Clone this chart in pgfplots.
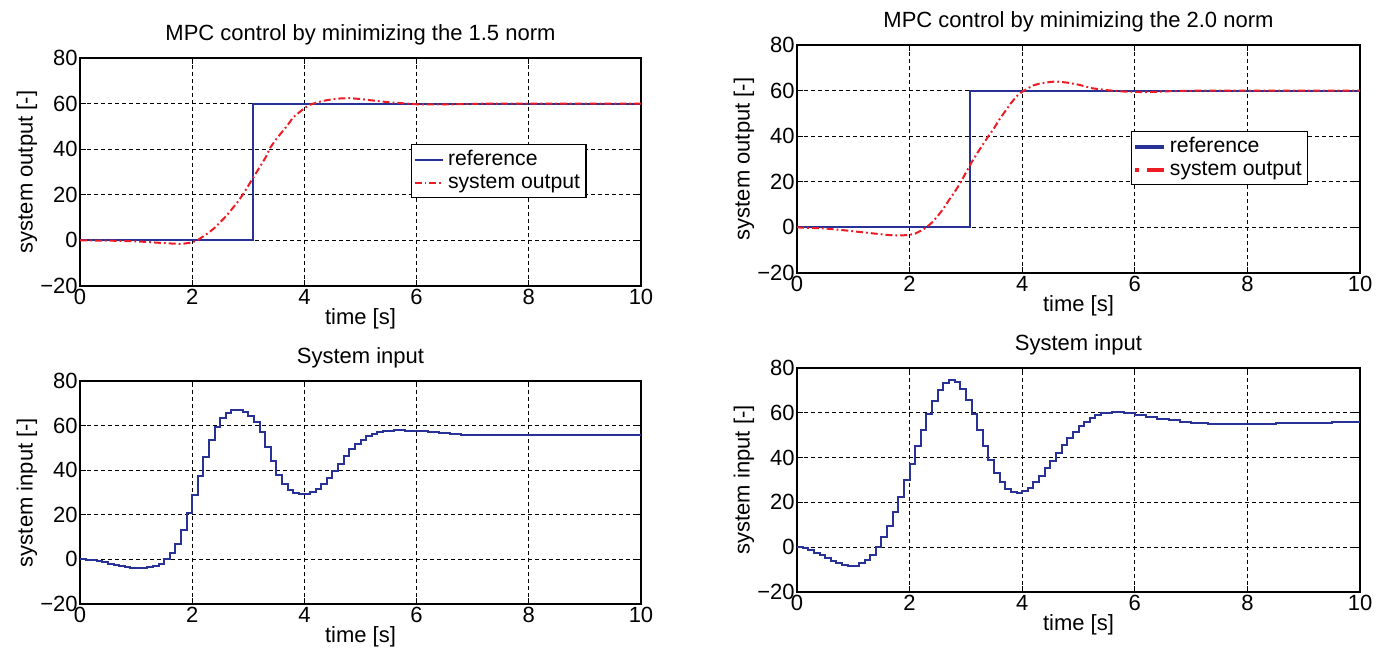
\documentclass[border=0pt]{standalone}
\usepackage{fontspec}
\setmainfont{Liberation Sans}
\usepackage{pgfplots}
\pgfplotsset{compat=1.18}
\definecolor{mblue}{RGB}{40,50,150}
\definecolor{mred}{RGB}{237,28,36}
\pgfplotsset{
  base/.style={
    scale only axis,
    xmin=0, xmax=10, ymin=-20, ymax=80,
    xtick={0,2,4,6,8,10}, ytick={-20,0,20,40,60,80},
    xticklabels={0,2,4,6,8,10},
    yticklabels={−20,0,20,40,60,80},
    grid=major,
    major grid style={black, line width=0.4pt, dash pattern=on 2pt off 1.5pt},
    tick align=inside,
    major tick length=3pt,
    tick style={black, line width=0.5pt},
    axis line style={black, line width=0.7pt},
    xlabel={time [s]},
    yticklabel style={inner xsep=1pt},
    xticklabel style={inner ysep=1.5pt},
    xlabel style={yshift=3pt},
    ylabel style={yshift=-3pt},
    title style={yshift=-3pt},
    legend cell align=left,
    legend style={draw=black, line width=0.6pt, inner xsep=1pt, inner ysep=1pt, row sep=-1pt,
      font=\fontsize{10.6}{12.5}\selectfont},
    legend image code/.code={\draw[#1] (0cm,0cm) -- (0.5cm,0cm);},
  },
  outstyle/.style={mred, line width=1pt, dash pattern=on 3.5pt off 1.5pt on 0.9pt off 1.5pt},
  refstyle/.style={mblue, line width=1pt},
}
\begin{document}
\begin{tikzpicture}[font=\fontsize{11}{13}\selectfont]
\path[use as bounding box] (0,0) rectangle (694.5pt,326pt);
% top-left
\begin{axis}[base, at={(40pt,183pt)}, anchor=south west, width=280.5pt, height=114pt,
  title={MPC control by minimizing the 1.5 norm}, ylabel={system output [-]},
  legend style={at={(0.59,0.623)}, anchor=north west}]
\addplot[refstyle] coordinates {(0,0)(3.08,0)(3.08,60)(10,60)};
\addlegendentry{reference}
\addplot[outstyle] coordinates {
(0,0)(0.5,-0.1)(1.0,-0.4)(1.5,-1.2)(1.8,-1.6)(2.0,-0.9)(2.1,0.2)(2.2,1.8)(2.3,3.5)(2.4,5.5)(2.5,8.0)(2.6,10.5)(2.7,13.5)(2.8,16.5)(2.9,20)(3.0,24)(3.1,28)(3.2,32)(3.3,36)(3.4,41)(3.5,44.5)(3.6,47.5)(3.7,50.5)(3.8,54)(3.9,56)(4.0,58)(4.1,59.5)(4.2,60.3)(4.3,61)(4.4,61.5)(4.6,62.2)(4.8,62.4)(5.0,62)(5.2,61.4)(5.5,60.6)(6.0,59.7)(6.5,59.6)(7.0,59.9)(7.5,60)(10,60)};
\addlegendentry{system output}
\end{axis}
% top-right
\begin{axis}[base, at={(398.5pt,189.5pt)}, anchor=south west, width=281.5pt, height=114pt,
  title={MPC control by minimizing the 2.0 norm}, ylabel={system output [-]},
  legend style={at={(0.593,0.623)}, anchor=north west}]
\addlegendimage{mblue, line width=2pt}
\addlegendentry{reference}
\addlegendimage{mred, line width=2pt, dash pattern=on 2pt off 4pt on 9pt off 0pt}
\addlegendentry{system output}
\addplot[refstyle, forget plot] coordinates {(0,0)(3.08,0)(3.08,60)(10,60)};
\addplot[outstyle, forget plot] coordinates {
(0,0)(0.5,-0.5)(0.85,-1.3)(1.3,-2.5)(1.6,-3.3)(1.8,-3.6)(2.0,-3.3)(2.1,-2.7)(2.2,-1.5)(2.3,0.0)(2.4,2.2)(2.5,5)(2.6,8.2)(2.7,12)(2.8,15.5)(2.9,19.5)(3.0,24)(3.1,28.5)(3.2,32.5)(3.3,36.3)(3.4,40)(3.5,43.5)(3.6,47.5)(3.7,51)(3.8,54.5)(3.9,57.5)(4.0,59.5)(4.1,61)(4.2,62.3)(4.3,63)(4.5,63.8)(4.6,64)(4.8,63.5)(5.0,62.6)(5.25,61)(5.5,60.2)(5.8,59.6)(6.2,59.3)(6.7,59.8)(7.2,60)(10,60)};
\end{axis}
% bottom-left
\begin{axis}[base, at={(40pt,24pt)}, anchor=south west, width=280.5pt, height=111.5pt,
  title={System input}, ylabel={system input [-]}]
\addplot[refstyle, const plot] coordinates {
(0,0)(0.1,-0.1)(0.2,-0.4)(0.3,-0.8)(0.4,-1.3)(0.5,-1.9)(0.6,-2.5)(0.7,-3.0)(0.8,-3.4)(0.9,-3.7)(1.0,-3.8)(1.1,-3.8)(1.2,-3.6)(1.3,-3.0)(1.4,-2.0)(1.5,0.2)(1.6,2.9)(1.7,7.1)(1.8,13)(1.9,20.6)(2.0,28.9)(2.1,37.6)(2.2,46)(2.3,53.5)(2.4,59.5)(2.5,63.5)(2.6,65.6)(2.7,66.8)(2.8,66.8)(2.9,66.2)(3.0,64.5)(3.1,61.5)(3.2,57)(3.3,50.5)(3.4,44)(3.5,38)(3.6,34)(3.7,31.2)(3.8,29.8)(3.9,29.4)(4.0,29.5)(4.1,30.2)(4.2,31.6)(4.3,33.8)(4.4,36.4)(4.5,39.5)(4.6,43)(4.7,46.3)(4.8,49.3)(4.9,51.8)(5.0,53.7)(5.1,55.2)(5.2,56.4)(5.3,57.1)(5.4,57.6)(5.5,57.8)(5.6,57.9)(5.7,57.9)(5.8,57.8)(5.9,57.6)(6.0,57.4)(6.2,57.0)(6.4,56.6)(6.6,56.2)(6.8,55.9)(7.0,55.8)(7.3,55.7)(7.6,55.7)(8.0,55.9)(8.5,56.0)(9.0,56.0)(9.5,56.0)(10,56.0)};
\end{axis}
% bottom-right
\begin{axis}[base, at={(398.5pt,30pt)}, anchor=south west, width=281.5pt, height=112pt,
  title={System input}, ylabel={system input [-]}]
\addplot[refstyle, const plot] coordinates {
(0,0)(0.1,-0.4)(0.2,-1.3)(0.3,-2.4)(0.4,-3.6)(0.5,-4.9)(0.6,-6.1)(0.7,-7.2)(0.8,-8.0)(0.9,-8.5)(1.0,-8.4)(1.1,-7.2)(1.2,-5.7)(1.3,-3.3)(1.4,0.1)(1.5,4.5)(1.6,9.6)(1.7,15.9)(1.8,22.6)(1.9,29.8)(2.0,37.3)(2.1,45.1)(2.2,52.5)(2.3,59.4)(2.4,65.4)(2.5,70.1)(2.6,73.2)(2.7,74.6)(2.8,73.7)(2.9,70.7)(3.0,65.9)(3.1,59.3)(3.2,52.4)(3.3,45.2)(3.4,38.8)(3.5,33.2)(3.6,29.0)(3.7,26.0)(3.8,24.6)(3.9,24.1)(4.0,24.9)(4.1,26.6)(4.2,29.0)(4.3,31.9)(4.4,35.2)(4.5,38.5)(4.6,42.1)(4.7,45.5)(4.8,48.7)(4.9,51.5)(5.0,53.9)(5.1,56.0)(5.2,57.8)(5.3,59.0)(5.4,59.7)(5.5,60.0)(5.6,60.2)(5.7,60.2)(5.8,60.0)(5.9,59.7)(6.0,59.2)(6.2,58.3)(6.4,57.4)(6.6,56.6)(6.8,56.0)(7.0,55.4)(7.3,55.0)(7.6,54.9)(8.0,55.2)(8.5,55.5)(9.0,55.6)(9.5,55.7)(10,55.7)};
\end{axis}
\end{tikzpicture}
\end{document}
